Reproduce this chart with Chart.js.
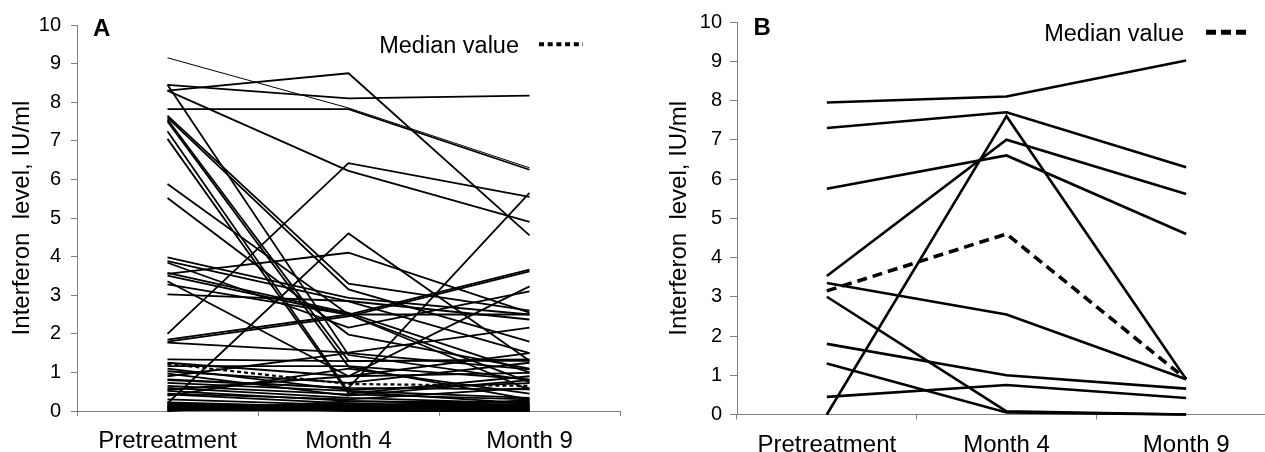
<!DOCTYPE html>
<html><head><meta charset="utf-8">
<script src="https://cdn.jsdelivr.net/npm/chart.js@4.4.0/dist/chart.umd.min.js"></script>
<style>
html,body{margin:0;padding:0;background:#fff;overflow:hidden;width:1265px;height:452px;}
#wa{position:absolute;left:0;top:0;width:640px;height:452px;}
#wb{position:absolute;left:640px;top:0;width:640px;height:452px;}
</style></head><body>
<div id="wa"><canvas id="ca" width="640" height="452"></canvas></div>
<div id="wb"><canvas id="cb" width="640" height="452"></canvas></div>
<script>
// ---------- DATA ----------
const categories = ['Pretreatment', 'Month 4', 'Month 9'];
const yTickValues = [0, 1, 2, 3, 4, 5, 6, 7, 8, 9, 10];
const yTitle = 'Interferon  level, IU/ml';
const legendText = 'Median value';
const panelLetters = ['A', 'B'];

// Panel A: one entry per patient
const aPre = [9.15, 8.30, 8.45, 7.82, 8.30, 2.00, 0.80, 0.20, 3.55, 7.65, 7.60, 8.45, 7.55, 7.50, 7.25, 7.05,
  5.88, 5.52, 3.98, 3.88, 3.84, 3.58, 3.51, 3.36, 3.28, 3.02, 1.85, 1.80, 1.77, 1.34, 1.25, 1.16, 1.03, 0.90,
  0.82, 0.73, 0.65, 0.60, 0.52, 0.43, 0.30, 0.22, 0.17, 0.15, 0.12, 0.10, 0.08, 0.05, 0.03, 0.02, 0.10, 0.06,
  0.00, 0.14, 0.20, 0.45, 0.55, 0.97, 1.10, 0.40];
const aM4 = [7.85, 8.75, 8.10, 7.82, 6.22, 6.42, 0.60, 4.60, 4.10, 3.30, 3.15, 1.45, 1.30, 1.15, 0.50, 0.45,
  2.50, 1.98, 2.93, 2.84, 2.16, 2.54, 2.50, 0.90, 2.50, 2.85, 2.50, 2.45, 1.51, 1.29, 0.90, 1.16, 0.73, 1.50,
  0.60, 0.52, 0.43, 0.34, 0.26, 0.20, 0.15, 0.10, 0.12, 0.05, 0.08, 0.03, 0.10, 0.06, 0.02, 0.12, 0.15, 0.20,
  0.25, 0.00, 0.05, 0.30, 0.90, 0.40, 0.55, 1.10];
const aM9 = [6.30, 4.55, 8.17, 6.25, 4.90, 5.55, 5.65, 1.30, 2.55, 2.60, 1.80, 0.80, 1.30, 0.30, 0.20, 0.90,
  0.75, 1.10, 2.50, 1.50, 3.10, 1.00, 2.50, 3.23, 0.55, 2.37, 3.66, 3.62, 2.16, 1.34, 0.99, 0.82, 1.25, 1.08,
  0.56, 0.34, 0.30, 0.20, 0.15, 0.10, 0.25, 0.05, 0.08, 0.12, 0.03, 0.10, 0.05, 0.15, 0.02, 0.07, 0.18, 0.02,
  0.22, 0.00, 0.28, 0.60, 1.50, 0.80, 0.72, 0.45];
const aMedian = [1.22, 0.70, 0.65];

// Panel B
const bPre = [7.95, 7.30, 5.75, 3.53, 3.35, 3.00, 1.80, 1.30, 0.45, 0.00];
const bM4 = [8.10, 7.70, 6.60, 7.00, 2.55, 0.08, 1.00, 0.05, 0.75, 7.60];
const bM9 = [9.02, 6.30, 4.60, 5.62, 0.90, 0.00, 0.66, 0.00, 0.42, 0.90];
const bMedian = [3.15, 4.60, 0.90];

// ---------- CHART ----------
const FONT = '"Liberation Sans", Arial, sans-serif';
const AXIS_GREY = '#808080';

const decor = {
  id: 'decor',
  afterDraw(chart, args, o) {
    const ctx = chart.ctx;
    ctx.save();
    ctx.fillStyle = '#000';
    ctx.textAlign = 'left';
    ctx.textBaseline = 'alphabetic';
    ctx.font = 'bold ' + o.letterSize + 'px ' + FONT;
    ctx.fillText(o.letter, o.letterX, o.letterY);
    ctx.font = o.legendSize + 'px ' + FONT;
    ctx.textAlign = 'right';
    ctx.fillText(legendText, o.textRight, o.textBase);
    ctx.strokeStyle = '#000';
    ctx.lineWidth = o.dashWidth;
    ctx.setLineDash(o.dash);
    ctx.beginPath();
    ctx.moveTo(o.dashX0, o.dashY);
    ctx.lineTo(o.dashX1, o.dashY);
    ctx.stroke();
    ctx.restore();
  }
};

function makeChart(id, pre, m4, m9, median, cfg) {
  const datasets = [{
    data: median, borderColor: '#000', borderWidth: cfg.medianWidth, borderDash: cfg.medianDash,
    pointRadius: 0, tension: 0, clip: false
  }];
  for (let i = 0; i < pre.length; i++) {
    datasets.push({
      data: [pre[i], m4[i], m9[i]], borderColor: '#000',
      borderWidth: (cfg.thinFirst && i === 0) ? 1 : cfg.lineWidth,
      pointRadius: 0, tension: 0, clip: false
    });
  }
  return new Chart(document.getElementById(id), {
    type: 'line',
    data: { labels: categories, datasets },
    plugins: [decor],
    options: {
      responsive: false, animation: false, devicePixelRatio: 1,
      layout: { padding: { left: 0, right: cfg.padRight, top: cfg.padTop, bottom: 0 } },
      plugins: {
        legend: { display: false }, tooltip: { enabled: false },
        decor: cfg.decor
      },
      scales: {
        x: {
          type: 'category', offset: true,
          afterFit: s => { s.height = cfg.xHeight; },
          grid: { offset: true, drawOnChartArea: false, drawTicks: true, tickLength: 5, color: AXIS_GREY, lineWidth: 1 },
          border: { display: true, color: AXIS_GREY, width: 1 },
          ticks: { color: '#000', font: { family: FONT, size: cfg.xFont }, padding: cfg.xPad, maxRotation: 0, autoSkip: false }
        },
        y: {
          min: 0, max: 10,
          afterFit: s => { s.width = cfg.yWidth; },
          afterBuildTicks: s => { s.ticks = yTickValues.map(v => ({ value: v })); },
          grid: { drawOnChartArea: false, drawTicks: true, tickLength: cfg.yTickLen, color: AXIS_GREY, lineWidth: 1 },
          border: { display: true, color: AXIS_GREY, width: 1 },
          ticks: { color: '#000', font: { family: FONT, size: cfg.yFont }, padding: cfg.yPad },
          title: { display: true, text: yTitle, color: '#000', font: { family: FONT, size: 24 }, padding: { top: cfg.titlePad, bottom: 0 } }
        }
      }
    }
  });
}

makeChart('ca', aPre, aM4, aM9, aMedian, {
  lineWidth: 1.8, thinFirst: true, medianWidth: 2.2, medianDash: [4, 3],
  padRight: 20, padTop: 25, xHeight: 41, yWidth: 77, xFont: 24, yFont: 20, xPad: 10.5, yPad: 10, yTickLen: 6, titlePad: 8,
  decor: { letter: panelLetters[0], letterSize: 24, letterX: 93, letterY: 36, legendSize: 23.5, textRight: 519, textBase: 53,
    dashWidth: 4, dash: [5, 3.7], dashX0: 539, dashX1: 583, dashY: 44.3 }
});

makeChart('cb', bPre, bM4, bM9, bMedian, {
  lineWidth: 2.6, thinFirst: false, medianWidth: 3.6, medianDash: [10, 6],
  padRight: 4, padTop: 22, xHeight: 37.5, yWidth: 97, xFont: 24, yFont: 20, xPad: 11, yPad: 8, yTickLen: 7, titlePad: 24.6,
  decor: { letter: panelLetters[1], letterSize: 24, letterX: 113.6, letterY: 35, legendSize: 23.5, textRight: 544, textBase: 40.7,
    dashWidth: 5, dash: [10, 5], dashX0: 566, dashX1: 606, dashY: 32.3 }
});
</script>
</body></html>
